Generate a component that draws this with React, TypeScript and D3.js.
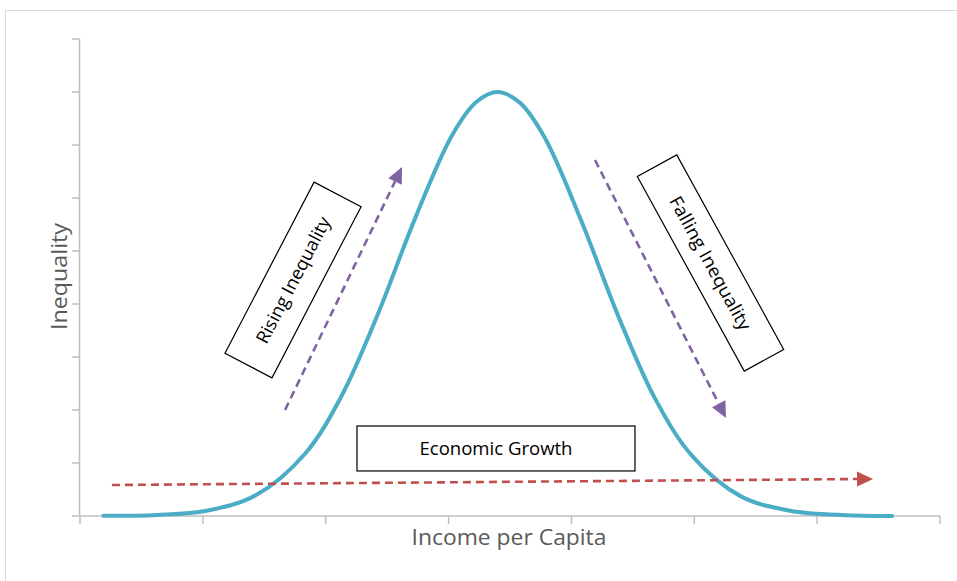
import React from "react";
import * as d3 from "d3";

// ---- data ----
const xTicks = [0, 1, 2, 3, 4, 5, 6, 7];
const yTicks = [0, 1, 2, 3, 4, 5, 6, 7, 8, 9];
const curveX = [0.19, 0.63, 1.03, 1.43, 1.83, 2.13, 2.43, 2.73, 3.03, 3.23, 3.4, 3.58, 3.78, 4.08, 4.38, 4.68, 4.98, 5.38, 5.78, 6.23, 6.61];
const curveY = [0.003, 0.02, 0.1, 0.39, 1.17, 2.27, 3.84, 5.63, 7.19, 7.82, 8.0, 7.8, 7.15, 5.57, 3.78, 2.22, 1.14, 0.37, 0.1, 0.015, 0.002];

const arrowNames = ["growth", "rising", "falling"];
const arrowX1 = [0.26, 1.669, 4.192];
const arrowY1 = [0.585, 2.0, 6.717];
const arrowX2 = [6.455, 2.621, 5.258];
const arrowY2 = [0.7, 6.585, 1.849];

const boxLabels = ["Economic Growth", "Rising Inequality", "Falling Inequality"];
const boxX = [3.386, 1.734, 5.132];
const boxY = [1.274, 4.453, 4.774];

const xTitle = "Income per Capita";
const yTitle = "Inequality";

// ---- styles ----
const W = 957, H = 581;
const axisColor = "#bfbfbf";
const curveColor = "#4BACC6";
const arrowColors = ["#C0504D", "#8064A2", "#8064A2"];
const boxW = [278, 193, 222];
const boxH = [45, 53, 45];
const boxAngle = [0, -62.5, 61.2];
const boxTextLen = [153, 140, 150];
const font = "'Open Sans', Lato, sans-serif";

export default function App() {
  const x = d3.scaleLinear().domain([0, 7]).range([80, 940]);
  const y = d3.scaleLinear().domain([0, 9]).range([516, 39]);

  const pts: [number, number][] = curveX.map((v, i) => [v, curveY[i]]);
  const line = d3
    .line<[number, number]>()
    .x((d) => x(d[0]))
    .y((d) => y(d[1]))
    .curve(d3.curveCatmullRom.alpha(0.5));

  const arrows = arrowNames.map((n, i) => {
    const x1 = x(arrowX1[i]), y1 = y(arrowY1[i]);
    const x2 = x(arrowX2[i]), y2 = y(arrowY2[i]);
    const dx = x2 - x1, dy = y2 - y1;
    const len = Math.hypot(dx, dy);
    const ux = dx / len, uy = dy / len;
    const hl = 16, hw = 7.5;
    const bx = x2 - ux * hl, by = y2 - uy * hl;
    const pts = `${x2},${y2} ${bx - uy * hw},${by + ux * hw} ${bx + uy * hw},${by - ux * hw}`;
    return { n, x1, y1, bx, by, pts, color: arrowColors[i] };
  });

  return (
    <svg
      width={W}
      height={H}
      style={{ position: "absolute", left: 0, top: 0, background: "#fff" }}
    >
      <rect x={5.5} y={10.5} width={W} height={H} fill="#fff" stroke="#d9d9d9" strokeWidth={1} />

      {/* y axis */}
      <line x1={79.5} x2={79.5} y1={y(9)} y2={y(0)} stroke={axisColor} strokeWidth={1.5} />
      {yTicks.map((t) => (
        <line key={"yt" + t} x1={72} x2={79.5} y1={y(t)} y2={y(t)} stroke={axisColor} strokeWidth={1.5} />
      ))}
      {/* x axis */}
      <line x1={x(0)} x2={x(7)} y1={516} y2={516} stroke={axisColor} strokeWidth={1.5} />
      {xTicks.map((t) => (
        <line key={"xt" + t} x1={x(t)} x2={x(t)} y1={516} y2={524} stroke={axisColor} strokeWidth={1.5} />
      ))}

      {/* curve */}
      <path d={line(pts) || ""} fill="none" stroke={curveColor} strokeWidth={4} strokeLinecap="round" />

      {/* arrows */}
      {arrows.map((a) => (
        <g key={a.n}>
          <line x1={a.x1} y1={a.y1} x2={a.bx} y2={a.by} stroke={a.color} strokeWidth={2.6} strokeDasharray="8 5" />
          <polygon points={a.pts} fill={a.color} />
        </g>
      ))}

      {/* boxes */}
      {boxLabels.map((l, i) => (
        <g key={l} transform={`translate(${x(boxX[i])},${y(boxY[i])}) rotate(${boxAngle[i]})`}>
          <rect x={-boxW[i] / 2} y={-boxH[i] / 2} width={boxW[i]} height={boxH[i]} fill="#fff" stroke="#000" strokeWidth={1.2} />
          <text
            x={0}
            y={0}
            dy="0.36em"
            textAnchor="middle"
            fontFamily={font}
            fontSize={18}
            fill="#000"
            textLength={boxTextLen[i]}
            lengthAdjust="spacingAndGlyphs"
          >
            {l}
          </text>
        </g>
      ))}

      {/* axis titles */}
      <text
        x={509}
        y={545}
        textAnchor="middle"
        fontFamily={font}
        fontSize={21}
        fill="#595959"
        textLength={195}
        lengthAdjust="spacingAndGlyphs"
      >
        {xTitle}
      </text>
      <text
        transform={`translate(67,276.5) rotate(-90)`}
        textAnchor="middle"
        fontFamily={font}
        fontSize={21}
        fill="#595959"
        textLength={107}
        lengthAdjust="spacingAndGlyphs"
      >
        {yTitle}
      </text>
    </svg>
  );
}
